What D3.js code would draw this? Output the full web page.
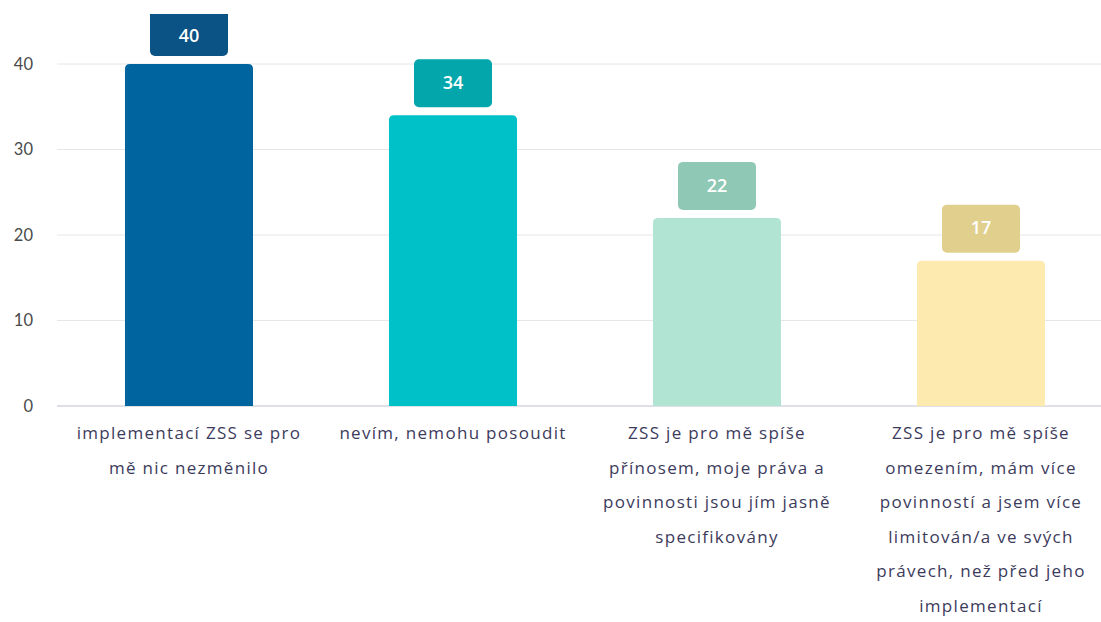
<!DOCTYPE html>
<html>
<head>
<meta charset="utf-8">
<script src="https://cdn.jsdelivr.net/npm/d3@7"></script>
<style>
  body { margin: 0; background: #fff; }
  text { font-family: "Open Sans", "DejaVu Sans", sans-serif; }
</style>
</head>
<body>
<div id="wrapper"></div>
<script>
// data
const categories = [
    ["implementací ZSS se pro", "mě nic nezměnilo"],
    ["nevím, nemohu posoudit"],
    ["ZSS je pro mě spíše", "přínosem, moje práva a", "povinnosti jsou jím jasně", "specifikovány"],
    ["ZSS je pro mě spíše", "omezením, mám více", "povinností a jsem více", "limitován/a ve svých", "právech, než před jeho", "implementací"]
];
const values = [40, 34, 22, 17];
const barColors = ["#00659f", "#00c0c8", "#b1e4d3", "#fdeaae"];
const boxColors = ["#0b5285", "#02a6ab", "#8fc8b4", "#e0cf8d"];
const yTicks = [0, 10, 20, 30, 40];

function buildPlot() {
    const dimension = {
        width: 1101,
        height: 622,
        margin: { top: 64, left: 57, bottom: 216, right: 0 }
    };
    dimension.boundedWidth = dimension.width - dimension.margin.left - dimension.margin.right;
    dimension.boundedHeight = dimension.height - dimension.margin.top - dimension.margin.bottom;

    const svg = d3.select("#wrapper").append("svg")
        .attr("width", dimension.width)
        .attr("height", dimension.height);

    // labels above the top of the chart are cut off at y = 14
    svg.append("defs").append("clipPath").attr("id", "clipTop")
        .append("rect")
        .attr("x", 0).attr("y", 14)
        .attr("width", dimension.width).attr("height", dimension.height);

    const bounded = svg.append("g")
        .attr("transform", `translate(${dimension.margin.left},${dimension.margin.top})`);

    const idx = d3.range(values.length);
    const xScaler = d3.scaleBand()
        .domain(idx)
        .range([0, 1056])
        .paddingInner(0.515)
        .paddingOuter(0.2575);

    const yScaler = d3.scaleLinear()
        .domain([0, 40])
        .range([dimension.boundedHeight, 0]);

    // grid
    bounded.append("g")
        .selectAll("line")
        .data(yTicks)
        .join("line")
        .attr("x1", 0)
        .attr("x2", dimension.boundedWidth)
        .attr("y1", d => yScaler(d))
        .attr("y2", d => yScaler(d))
        .attr("stroke", d => d === 0 ? "#d3d6dc" : "#e6e6e6")
        .attr("stroke-width", d => d === 0 ? 1.5 : 1);

    // y axis labels
    const yAxis = d3.axisLeft(yScaler).tickValues(yTicks).tickSize(0).tickPadding(24);
    const yG = bounded.append("g").call(yAxis);
    yG.select(".domain").remove();
    yG.selectAll("text")
        .attr("font-size", 16.5)
        .attr("fill", "#4a4a4a")
        .style("font-family", "Lato, sans-serif");

    // bars with rounded top
    const r = 5;
    const barPath = (i) => {
        const x0 = xScaler(i), w = xScaler.bandwidth();
        const y0 = yScaler(values[i]), y1 = yScaler(0);
        return `M${x0},${y1}V${y0 + r}Q${x0},${y0} ${x0 + r},${y0}H${x0 + w - r}Q${x0 + w},${y0} ${x0 + w},${y0 + r}V${y1}Z`;
    };
    bounded.append("g")
        .selectAll("path")
        .data(idx)
        .join("path")
        .attr("d", barPath)
        .attr("fill", i => barColors[i]);

    // value boxes
    const boxW = 78, boxH = 48, gap = 8;
    const boxes = svg.append("g")
        .attr("clip-path", "url(#clipTop)")
        .append("g")
        .attr("transform", `translate(${dimension.margin.left},${dimension.margin.top})`)
        .selectAll("g")
        .data(idx)
        .join("g")
        .attr("transform", i => `translate(${xScaler(i) + xScaler.bandwidth() / 2},${yScaler(values[i]) - gap - boxH})`);
    boxes.append("rect")
        .attr("x", -boxW / 2)
        .attr("width", boxW)
        .attr("height", boxH)
        .attr("rx", 5)
        .attr("fill", i => boxColors[i]);
    boxes.append("text")
        .attr("y", i => i === 0 ? boxH / 2 + 5 : boxH / 2 + 1)
        .attr("text-anchor", "middle")
        .attr("dominant-baseline", "middle")
        .attr("font-size", 18)
        .attr("font-weight", 600)
        .attr("fill", "#fff")
        .text(i => values[i]);

    // category labels
    const catG = bounded.append("g")
        .attr("transform", `translate(0,${dimension.boundedHeight})`);
    const labels = catG.selectAll("text")
        .data(idx)
        .join("text")
        .attr("x", i => xScaler(i) + xScaler.bandwidth() / 2)
        .attr("text-anchor", "middle")
        .attr("font-size", 17)
        .attr("letter-spacing", 1.3)
        .attr("fill", "#3c3b5c");
    labels.selectAll("tspan")
        .data(i => categories[i])
        .join("tspan")
        .attr("x", function () { return d3.select(this.parentNode).attr("x"); })
        .attr("y", (d, j) => 33 + j * 34.5)
        .text(d => d);
}

buildPlot();
</script>
</body>
</html>
